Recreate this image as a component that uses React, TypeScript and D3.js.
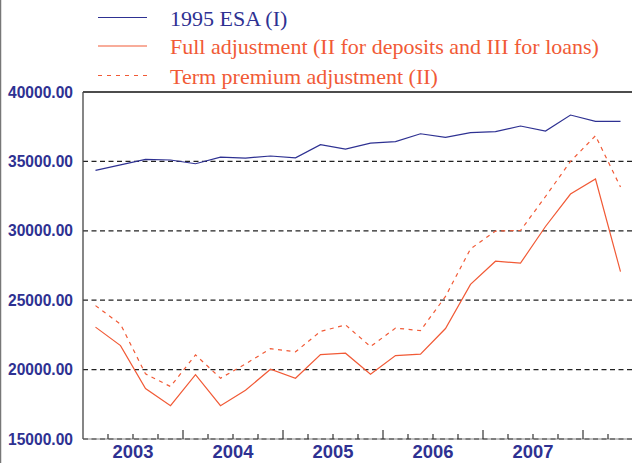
import React, { useEffect, useRef } from 'react';
import * as d3 from 'd3';

// quarters 2003Q1 .. 2008Q2
const quarters = [
  '2003Q1', '2003Q2', '2003Q3', '2003Q4',
  '2004Q1', '2004Q2', '2004Q3', '2004Q4',
  '2005Q1', '2005Q2', '2005Q3', '2005Q4',
  '2006Q1', '2006Q2', '2006Q3', '2006Q4',
  '2007Q1', '2007Q2', '2007Q3', '2007Q4',
  '2008Q1', '2008Q2',
];
const yearLabels = ['2003', '2004', '2005', '2006', '2007'];
const yTicks = [15000, 20000, 25000, 30000, 35000, 40000];

const esa95 = [34350, 34750, 35140, 35100, 34830, 35310, 35240, 35390, 35260, 36200, 35890,
  36320, 36420, 36990, 36730, 37070, 37140, 37550, 37190, 38340, 37880, 37880];
const fullAdj = [23060, 21730, 18630, 17400, 19640, 17400, 18510, 20030, 19380, 21080, 21180,
  19670, 21010, 21110, 22960, 26140, 27810, 27670, 30310, 32650, 33730, 27060];
const termAdj = [24610, 23270, 19690, 18780, 21060, 19380, 20410, 21510, 21280, 22750, 23220,
  21660, 22990, 22810, 25270, 28700, 29980, 30020, 32470, 35000, 36850, 33150];

const seriesNames = [
  '1995 ESA (I)',
  'Full adjustment (II for deposits and III for loans)',
  'Term premium adjustment (II)',
];

const BLUE = '#2e3192';
const RED = '#f15a36';

function App() {
  const ref = useRef<HTMLDivElement>(null);

  useEffect(() => {
    drawChart();
  }, []);

  const drawChart = () => {
    d3.select(ref.current).select('svg').remove();

    const width = 632, height = 463;
    const left = 83, right = 633, top = 92, bottom = 439;

    const x = d3.scaleLinear().domain([0, quarters.length]).range([left, right]);
    const y = d3.scaleLinear().domain([15000, 40000]).range([bottom, top]);

    const svg = d3.select(ref.current).append('svg')
      .attr('width', width)
      .attr('height', height)
      .style('position', 'absolute')
      .style('left', 0)
      .style('top', 0)
      .style('background', '#fff');

    // outer frame edge on the left
    svg.append('line')
      .attr('x1', 0.5).attr('x2', 0.5).attr('y1', 0).attr('y2', height)
      .attr('stroke', '#777').attr('stroke-width', 1.5);

    // horizontal gridlines (dashed)
    svg.append('g').selectAll('line')
      .data(yTicks.filter(d => d < 40000))
      .enter().append('line')
      .attr('x1', left).attr('x2', width)
      .attr('y1', d => y(d)).attr('y2', d => y(d))
      .attr('stroke', '#222')
      .attr('stroke-width', 1.2)
      .attr('stroke-dasharray', '5,3.5');

    // top border + left axis
    svg.append('line')
      .attr('x1', left).attr('x2', width).attr('y1', y(40000)).attr('y2', y(40000))
      .attr('stroke', '#111').attr('stroke-width', 1.3);
    svg.append('line')
      .attr('x1', left).attr('x2', left).attr('y1', y(40000)).attr('y2', bottom)
      .attr('stroke', '#444').attr('stroke-width', 1.3);
    svg.append('line')
      .attr('x1', left).attr('x2', width).attr('y1', bottom).attr('y2', bottom)
      .attr('stroke', '#666').attr('stroke-width', 0.8);

    // y labels
    svg.append('g').selectAll('text')
      .data(yTicks)
      .enter().append('text')
      .text(d => d3.format('.2f')(d))
      .attr('x', 73)
      .attr('y', d => y(d))
      .attr('dy', '0.36em')
      .attr('text-anchor', 'end')
      .attr('font-family', '"Liberation Sans", Arial, sans-serif')
      .attr('font-weight', 'bold')
      .attr('font-size', '15.6px')
      .attr('fill', BLUE);

    // x ticks, every quarter, year boundaries longer
    const tickIdx = d3.range(1, quarters.length + 1);
    svg.append('g').selectAll('line')
      .data(tickIdx)
      .enter().append('line')
      .attr('x1', d => x(d)).attr('x2', d => x(d))
      .attr('y1', bottom)
      .attr('y2', d => (d % 4 === 0 ? bottom - 9 : bottom - 5))
      .attr('stroke', '#333')
      .attr('stroke-width', 1.2);

    // year labels
    svg.append('g').selectAll('text')
      .data(yearLabels)
      .enter().append('text')
      .text(d => d)
      .attr('x', (d, i) => x(i * 4 + 2))
      .attr('y', 458)
      .attr('text-anchor', 'middle')
      .attr('font-family', '"Liberation Sans", Arial, sans-serif')
      .attr('font-weight', 'bold')
      .attr('font-size', '18.4px')
      .attr('fill', BLUE);

    const line = d3.line<number>()
      .x((d, i) => x(i + 0.5))
      .y(d => y(d));

    svg.append('path').datum(termAdj)
      .attr('d', line)
      .attr('fill', 'none')
      .attr('stroke', RED)
      .attr('stroke-width', 1.2)
      .attr('stroke-dasharray', '4,4.5');

    svg.append('path').datum(fullAdj)
      .attr('d', line)
      .attr('fill', 'none')
      .attr('stroke', RED)
      .attr('stroke-width', 1.2);

    svg.append('path').datum(esa95)
      .attr('d', line)
      .attr('fill', 'none')
      .attr('stroke', BLUE)
      .attr('stroke-width', 1.2);

    // legend
    const legendY = [17.5, 46, 75.5];
    const legendColors = [BLUE, RED, RED];
    const legendDash = [null, null, '4,5'];
    const legend = svg.append('g').selectAll('g')
      .data(seriesNames)
      .enter().append('g');

    legend.append('line')
      .attr('x1', 98).attr('x2', 147)
      .attr('y1', (d, i) => legendY[i]).attr('y2', (d, i) => legendY[i])
      .attr('stroke', (d, i) => legendColors[i])
      .attr('stroke-width', 1.2)
      .attr('stroke-dasharray', (d, i) => legendDash[i]);

    legend.append('text')
      .text(d => d)
      .attr('x', 170)
      .attr('y', (d, i) => legendY[i] + 8)
      .attr('font-family', '"Liberation Serif", "Times New Roman", serif')
      .attr('font-size', '22px')
      .attr('fill', (d, i) => legendColors[i]);
  };

  return <div ref={ref}></div>;
}

export default App;
